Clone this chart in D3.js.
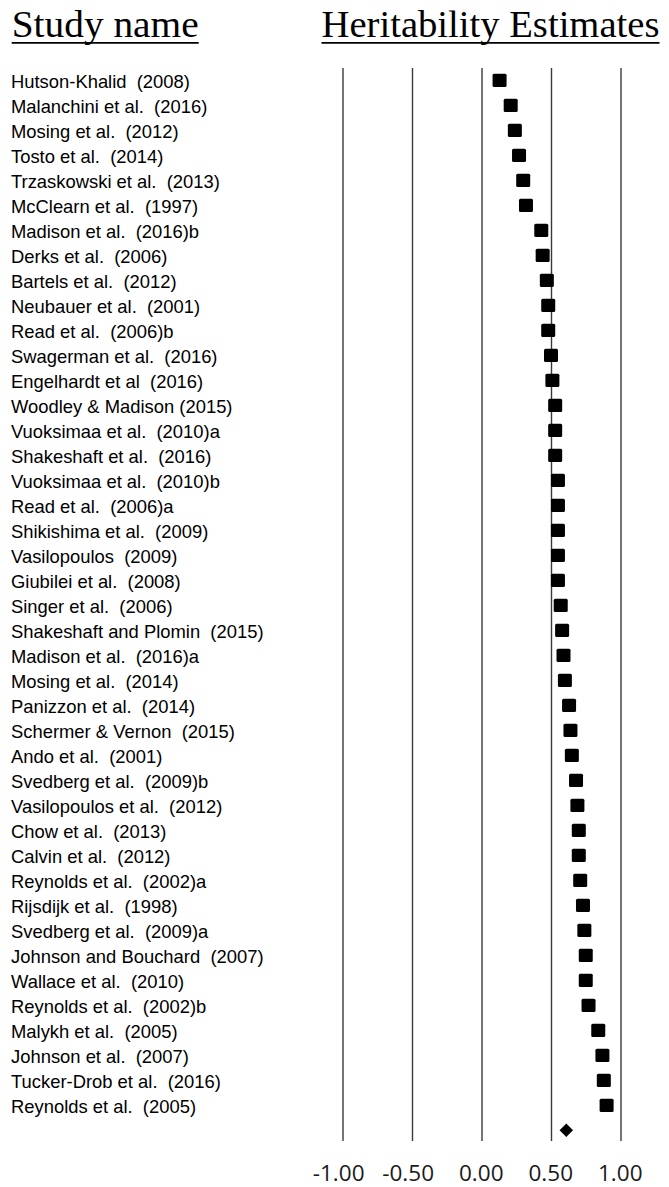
<!DOCTYPE html>
<html>
<head>
<meta charset="utf-8">
<script src="https://cdn.jsdelivr.net/npm/d3@7"></script>
<style>
  html, body { margin: 0; padding: 0; background: #fff; }
  svg { display: block; }
</style>
</head>
<body>
<svg id="chart" width="669" height="1187"></svg>
<script>
// ---- Data ----
const studies = [
  "Hutson-Khalid  (2008)",
  "Malanchini et al.  (2016)",
  "Mosing et al.  (2012)",
  "Tosto et al.  (2014)",
  "Trzaskowski et al.  (2013)",
  "McClearn et al.  (1997)",
  "Madison et al.  (2016)b",
  "Derks et al.  (2006)",
  "Bartels et al.  (2012)",
  "Neubauer et al.  (2001)",
  "Read et al.  (2006)b",
  "Swagerman et al.  (2016)",
  "Engelhardt et al  (2016)",
  "Woodley & Madison (2015)",
  "Vuoksimaa et al.  (2010)a",
  "Shakeshaft et al.  (2016)",
  "Vuoksimaa et al.  (2010)b",
  "Read et al.  (2006)a",
  "Shikishima et al.  (2009)",
  "Vasilopoulos  (2009)",
  "Giubilei et al.  (2008)",
  "Singer et al.  (2006)",
  "Shakeshaft and Plomin  (2015)",
  "Madison et al.  (2016)a",
  "Mosing et al.  (2014)",
  "Panizzon et al.  (2014)",
  "Schermer & Vernon  (2015)",
  "Ando et al.  (2001)",
  "Svedberg et al.  (2009)b",
  "Vasilopoulos et al.  (2012)",
  "Chow et al.  (2013)",
  "Calvin et al.  (2012)",
  "Reynolds et al.  (2002)a",
  "Rijsdijk et al.  (1998)",
  "Svedberg et al.  (2009)a",
  "Johnson and Bouchard  (2007)",
  "Wallace et al.  (2010)",
  "Reynolds et al.  (2002)b",
  "Malykh et al.  (2005)",
  "Johnson et al.  (2007)",
  "Tucker-Drob et al.  (2016)",
  "Reynolds et al.  (2005)"
];
const estimates = [
  0.13, 0.21, 0.24, 0.27, 0.30, 0.32, 0.43, 0.44, 0.47, 0.48, 0.48,
  0.50, 0.51, 0.53, 0.53, 0.53, 0.55, 0.55, 0.55, 0.55, 0.55, 0.57,
  0.58, 0.59, 0.60, 0.63, 0.64, 0.65, 0.68, 0.69, 0.70, 0.70, 0.71,
  0.73, 0.74, 0.75, 0.75, 0.77, 0.84, 0.87, 0.88, 0.90
];
const summaryEstimate = 0.61;
const tickValues = [-1.0, -0.5, 0.0, 0.5, 1.0];
const headers = ["Study name", "Heritability Estimates"];

// ---- Layout ----
const svg = d3.select("#chart");
const x = d3.scaleLinear().domain([-1, 1]).range([342.5, 620.5]);
const rows = studies.concat(["__summary__"]);
const y = d3.scalePoint().domain(rows).range([80.3, 1130.3]);
const gridTop = 68, gridBottom = 1141;

// Headers (serif, underlined)
const hdr = [
  { text: headers[0], x: 11.7, len: 187 },
  { text: headers[1], x: 321.5, len: 338 }
];
hdr.forEach(h => {
  svg.append("text")
    .attr("x", h.x).attr("y", 37.3)
    .attr("font-family", "'Liberation Serif', 'Times New Roman', serif")
    .attr("font-size", 37)
    .attr("fill", "#000")
    .attr("textLength", h.len)
    .attr("lengthAdjust", "spacingAndGlyphs")
    .text(h.text);
  svg.append("line")
    .attr("x1", h.x).attr("x2", h.x + h.len)
    .attr("y1", 42.8).attr("y2", 42.8)
    .attr("stroke", "#000").attr("stroke-width", 1.8);
});

// Vertical grid lines via axis
const axis = d3.axisBottom(x)
  .tickValues(tickValues)
  .tickSize(-(gridBottom - gridTop))
  .tickFormat(d => d.toFixed(2));
const gAxis = svg.append("g")
  .attr("transform", `translate(0,${gridBottom})`)
  .call(axis);
gAxis.select(".domain").remove();
gAxis.selectAll(".tick line")
  .attr("stroke", "#3a3a3a")
  .attr("stroke-width", 1.4);
gAxis.selectAll(".tick text")
  .attr("font-family", "'Open Sans', 'Noto Sans', sans-serif")
  .attr("font-size", 22.5)
  .attr("fill", "#1a1a1a")
  .attr("text-anchor", "end")
  .attr("x", 21.5)
  .attr("y", 40)
  .attr("dy", 0);

// Study labels
svg.append("g")
  .selectAll("text")
  .data(studies)
  .join("text")
  .attr("x", 11)
  .attr("y", d => y(d) + 7.2)
  .attr("font-family", "'Liberation Sans', Arial, sans-serif")
  .attr("font-size", 18.4)
  .attr("fill", "#000")
  .attr("xml:space", "preserve")
  .style("white-space", "pre")
  .text(d => d);

// Square markers
const sqW = 14, sqH = 13.3;
svg.append("g")
  .selectAll("rect")
  .data(studies.map((s, i) => ({ s, v: estimates[i] })))
  .join("rect")
  .attr("x", d => x(d.v) - sqW / 2)
  .attr("y", d => y(d.s) - sqH / 2)
  .attr("width", sqW)
  .attr("height", sqH)
  .attr("rx", 1.5)
  .attr("fill", "#000");

// Summary diamond
const cx = x(summaryEstimate), cy = y("__summary__");
svg.append("path")
  .attr("d", `M${cx},${cy - 6.7} L${cx + 6.7},${cy} L${cx},${cy + 6.7} L${cx - 6.7},${cy} Z`)
  .attr("fill", "#000");
</script>
</body>
</html>
